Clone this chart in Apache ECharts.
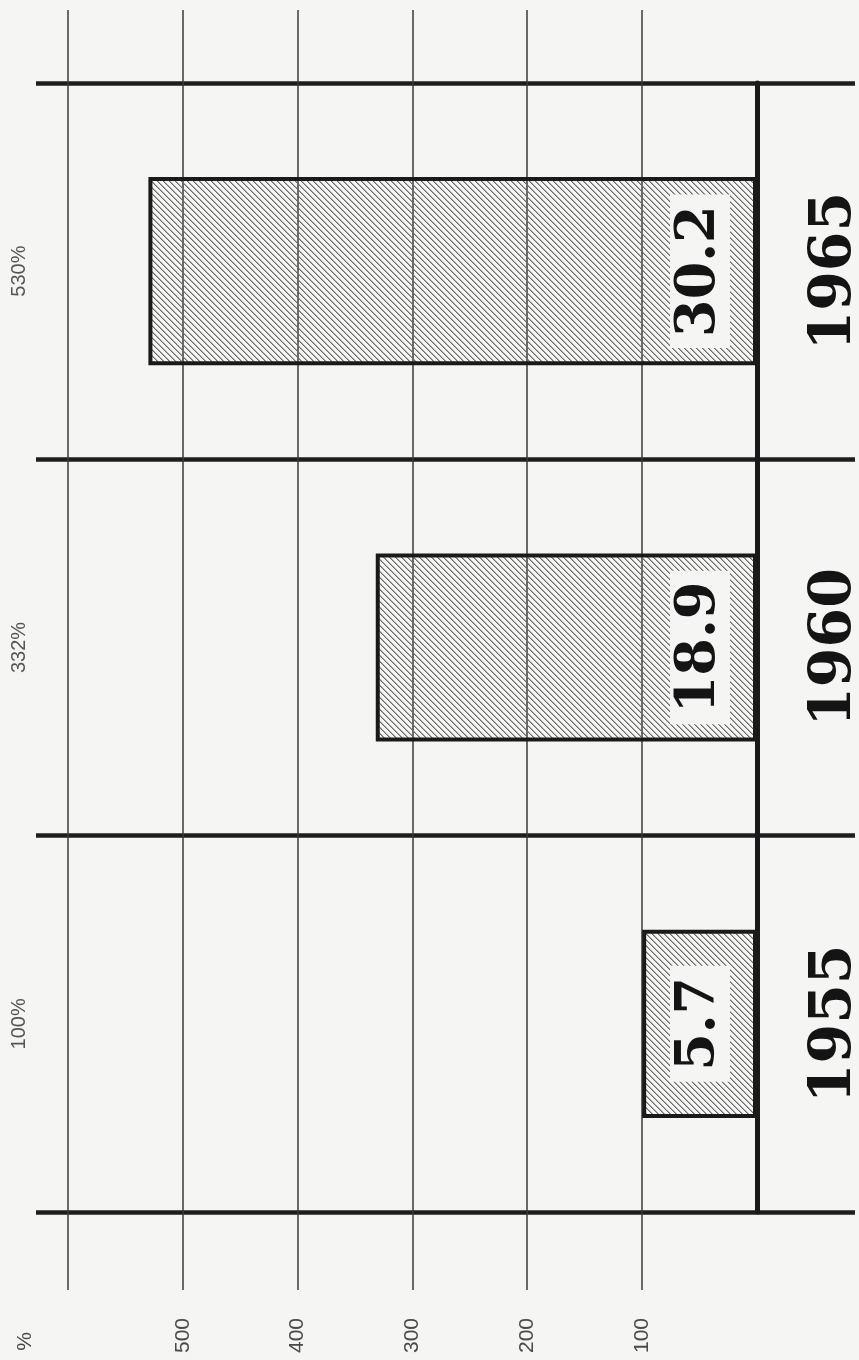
<!DOCTYPE html>
<html>
<head>
<meta charset="utf-8">
<title>1955 - 1965</title>
<script src="https://cdn.jsdelivr.net/npm/echarts@6/dist/echarts.min.js"></script>
<style>
  html, body { margin: 0; padding: 0; background: #f5f5f3; }
  #chart { width: 859px; height: 1360px; }
</style>
</head>
<body>
<div id="chart"></div>
<script>
// Kategorien (Jahre)
var years = ['1955', '1960', '1965'];
// absolute Werte (Beschriftung in den Balken)
var absValues = [5.7, 18.9, 30.2];
// Index in %, 1955 = 100 (Balkenlänge)
var indexValues = [100, 332, 530];
// Skalenbeschriftung
var tickLabels = [100, 200, 300, 400, 500];

// Schraffur fuer die Balken (graue Diagonalen)
function makeHatch () {
  var n = 6
  var c = document.createElement('canvas')
  c.width = n
  c.height = n
  var ctx = c.getContext('2d')
  ctx.fillStyle = '#6a6a6a'
  for (var i = 0; i < n; i++) {
    ctx.fillRect(i, i, 1, 1)
  }
  ctx.fillStyle = 'rgba(110,110,110,0.55)'
  for (var j = 0; j < n; j++) {
    ctx.fillRect((j + 1) % n, j, 1, 1)
  }
  return c
}

// Nullpunkt der Skala bei x = 757, 100 % = 114.83 px
var zeroX = 757
var pxPerUnit = 114.83 / 100
var gridLeft = 36
var gridRightWide = 4

var chart = echarts.init(document.getElementById('chart'))

var option = {
  backgroundColor: '#f5f5f3',
  animation: false,
  grid: [
    // Raster mit Skala
    { left: 68, right: 859 - 642, top: 10, bottom: 70, outerBoundsMode: 'none' },
    // dicke Trennlinien zwischen den Jahren
    { left: gridLeft, right: gridRightWide, top: 83, bottom: 148, outerBoundsMode: 'none' },
    // Balken
    { left: gridLeft, right: 859 - zeroX, top: 83, bottom: 148, outerBoundsMode: 'none' }
  ],
  xAxis: [
    {
      gridIndex: 0,
      type: 'value',
      inverse: true,
      min: 100,
      max: 600,
      interval: 100,
      axisLine: { show: false, onZero: false },
      axisTick: { show: false },
      splitLine: { show: true, lineStyle: { color: '#3a3a3a', width: 1.5 } },
      axisLabel: {
        rotate: 90,
        margin: 28,
        color: '#4a4a4a',
        fontSize: 21,
        fontFamily: 'Liberation Sans',
        showMaxLabel: false,
        formatter: function (v) {
          return tickLabels.indexOf(v) >= 0 ? String(v) : ''
        }
      },
      name: '%',
      nameLocation: 'end',
      nameRotate: 90,
      nameGap: 43,
      nameTextStyle: {
        color: '#4a4a4a',
        fontSize: 21,
        fontFamily: 'Liberation Sans',
        align: 'right',
        verticalAlign: 'middle',
        padding: [0, 42, 0, 0]
      }
    },
    { gridIndex: 1, type: 'value', show: false, min: 0, max: 1 },
    {
      gridIndex: 2,
      type: 'value',
      inverse: true,
      show: false,
      min: 0,
      max: (zeroX - gridLeft) / pxPerUnit
    }
  ],
  yAxis: [
    { gridIndex: 0, type: 'value', show: false },
    {
      gridIndex: 1,
      type: 'category',
      data: years,
      axisLine: { show: false, onZero: false },
      axisTick: { show: false },
      axisLabel: { show: false },
      splitLine: { show: true, lineStyle: { color: '#1e1e1e', width: 4.5 } }
    },
    {
      gridIndex: 2,
      type: 'category',
      data: years,
      position: 'right',
      axisLine: { onZero: false, lineStyle: { color: '#1a1a1a', width: 5 } },
      axisTick: { show: false },
      splitLine: { show: false },
      axisLabel: {
        rotate: 90,
        margin: 50,
        fontFamily: 'DejaVu Serif',
        fontWeight: 'bold',
        fontSize: 57,
        color: '#141414'
      }
    },
    {
      gridIndex: 2,
      type: 'category',
      data: indexValues.map(function (v) { return v + '%' }),
      position: 'left',
      axisLine: { show: false, onZero: false },
      axisTick: { show: false },
      splitLine: { show: false },
      axisLabel: {
        rotate: 90,
        margin: 7,
        fontSize: 20,
        color: '#555',
        fontFamily: 'Liberation Sans'
      }
    }
  ],
  series: [
    {
      type: 'bar',
      xAxisIndex: 2,
      yAxisIndex: 2,
      data: indexValues,
      barWidth: '50%',
      itemStyle: {
        color: { image: makeHatch(), repeat: 'repeat' },
        borderColor: '#1a1a1a',
        borderWidth: 4
      },
      label: {
        show: true,
        position: 'insideRight',
        distance: 27,
        rotate: 90,
        align: 'center',
        verticalAlign: 'bottom',
        formatter: function (p) { return String(absValues[p.dataIndex]) },
        fontFamily: 'DejaVu Serif',
        fontWeight: 'bold',
        fontSize: 54,
        color: '#141414',
        backgroundColor: '#f5f5f3',
        padding: [3, 11]
      }
    }
  ]
}

chart.setOption(option)
</script>
</body>
</html>
